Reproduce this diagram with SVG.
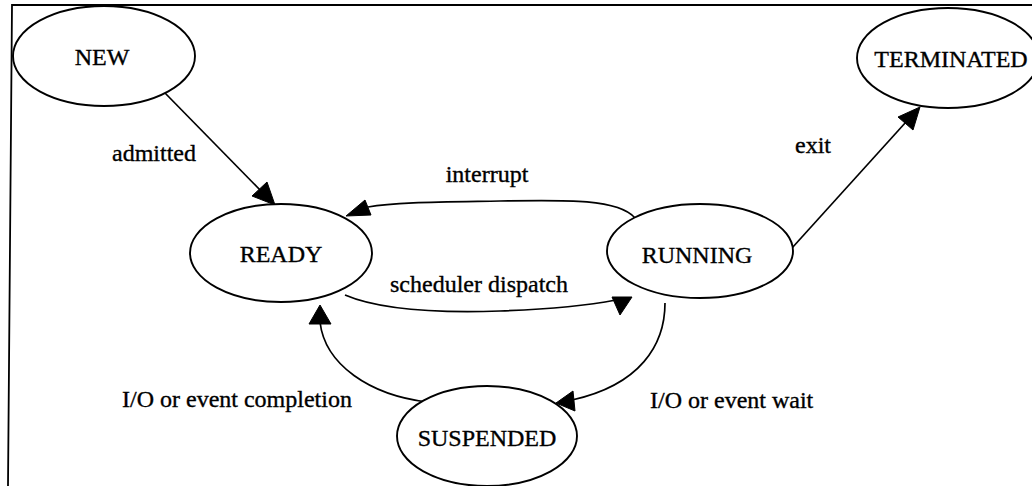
<svg xmlns="http://www.w3.org/2000/svg" width="1032" height="486" viewBox="0 0 1032 486">
  <style>
    .state { fill: #ffffff; stroke: #000000; stroke-width: 1.9; }
    .name { font-family: "Liberation Serif", "Times New Roman", serif; font-size: 24px; fill: #000000; stroke: #000000; stroke-width: 0.35; text-anchor: middle; }
    .edge { fill: none; stroke: #000000; stroke-width: 1.7; }
    .head { fill: #000000; stroke: #000000; stroke-width: 1; stroke-linejoin: round; }
    .label { font-family: "Liberation Serif", "Times New Roman", serif; font-size: 24px; fill: #000000; stroke: #000000; stroke-width: 0.35; }
  </style>

  <rect x="0" y="0" width="1032" height="486" fill="#ffffff"/>

  <!-- frame: top and left edges -->
  <path d="M 1032,5 L 12,5 L 8,486" fill="none" stroke="#000000" stroke-width="1.8"/>

  <!-- transitions -->
  <g id="connectors">
    <!-- admitted: NEW to READY -->
    <line class="edge" x1="165" y1="93" x2="262" y2="192"/>
    <polygon class="head" points="275,205 252,196 267,182"/>

    <!-- exit: RUNNING to TERMINATED -->
    <line class="edge" x1="792" y1="248" x2="906" y2="122"/>
    <polygon class="head" points="920,107 913,130 898,117"/>

    <!-- interrupt: RUNNING back to READY -->
    <path class="edge" d="M 635,218 C 618,198 560,200 500,201 C 440,202 395,202 368,207"/>
    <polygon class="head" points="346,216 365,200 371,215"/>

    <!-- scheduler dispatch: READY to RUNNING -->
    <path class="edge" d="M 345,295 C 380,310 440,313 500,311 C 560,309 590,305 616,300"/>
    <polygon class="head" points="612,297 632,297 620,315"/>

    <!-- I/O or event wait: RUNNING to SUSPENDED -->
    <path class="edge" d="M 665,303 C 665,345 640,385 572,400"/>
    <polygon class="head" points="556,403 573,391 575,411"/>

    <!-- I/O or event completion: SUSPENDED to READY -->
    <path class="edge" d="M 427,402 C 370,395 325,365 320,322"/>
    <polygon class="head" points="320,305 309,324 331,324"/>
  </g>

  <!-- transition labels -->
  <g id="labels">
    <text class="label" x="112" y="161">admitted</text>
    <text class="label" x="795" y="153">exit</text>
    <text class="label" x="487" y="182" text-anchor="middle">interrupt</text>
    <text class="label" x="479" y="292" text-anchor="middle">scheduler dispatch</text>
    <text class="label" x="122" y="407">I/O or event completion</text>
    <text class="label" x="650" y="408">I/O or event wait</text>
  </g>

  <!-- states -->
  <g id="node-new">
    <ellipse class="state" cx="104" cy="56" rx="91" ry="50"/>
    <text class="name" x="102" y="65">NEW</text>
  </g>
  <g id="node-terminated">
    <ellipse class="state" cx="948" cy="58" rx="91" ry="50"/>
    <text class="name" x="951" y="67">TERMINATED</text>
  </g>
  <g id="node-ready">
    <ellipse class="state" cx="281" cy="253" rx="91" ry="49"/>
    <text class="name" x="281" y="262">READY</text>
  </g>
  <g id="node-running">
    <ellipse class="state" cx="700" cy="251" rx="93" ry="47"/>
    <text class="name" x="697" y="263">RUNNING</text>
  </g>
  <g id="node-suspended">
    <ellipse class="state" cx="487" cy="436" rx="90" ry="50"/>
    <text class="name" x="487" y="446">SUSPENDED</text>
  </g>
</svg>
